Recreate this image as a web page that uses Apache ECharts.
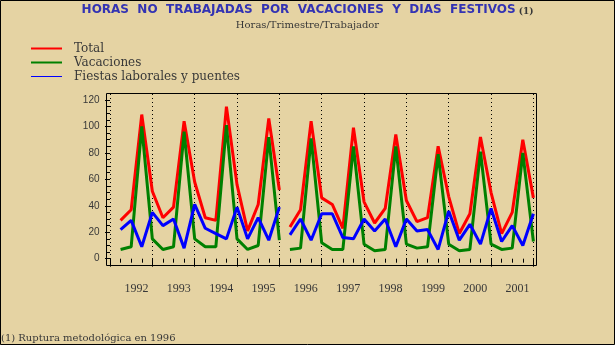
<!DOCTYPE html>
<html>
<head>
<meta charset="utf-8">
<script src="https://cdn.jsdelivr.net/npm/echarts@6/dist/echarts.min.js"></script>
<style>
  html, body { margin: 0; padding: 0; background: #e5d3a3; }
  #chart { width: 615px; height: 345px; }
</style>
</head>
<body>
<div id="chart"></div>
<script>
// Hours not worked per worker and quarter, 1992–2001.
// The survey changed its method in 1996, so each line is drawn in two pieces.
const years = ['1992', '1993', '1994', '1995', '1996', '1997', '1998', '1999', '2000', '2001'];

// 1992 Q1 – 1995 Q4
const totalA    = [29, 37, 109, 51, 31, 39, 104, 58, 31, 29, 115, 56, 21, 41, 106, 52];
const vacA      = [7, 9, 100, 15, 7, 9, 96, 15, 9, 9, 101, 15, 7, 10, 92, 14];
const fiestasA  = [22, 29, 9, 35, 25, 30, 8, 41, 23, 19, 15, 39, 15, 31, 14, 39];

// 1996 Q1 – 2001 Q4
const totalB    = [24, 37, 104, 46, 41, 23, 99, 43, 27, 38, 94, 44, 28, 31, 85, 47, 19, 34, 92, 50, 19, 35, 90, 46];
const vacB      = [7, 8, 91, 12, 7, 7, 85, 11, 6, 7, 85, 11, 8, 9, 79, 11, 6, 7, 81, 11, 7, 8, 80, 13];
const fiestasB  = [18, 30, 14, 34, 34, 16, 15, 30, 21, 30, 9, 30, 21, 22, 7, 36, 14, 26, 11, 38, 13, 25, 10, 34];

const seriesNames = ['Total', 'Vacaciones', 'Fiestas laborales y puentes'];
const colors = ['#ff0000', '#008000', '#0000ff'];

// quarter index on the x axis: 1 = 1992 Q1, 40 = 2001 Q4
function toPoints(values, firstQuarter) {
  return values.map((v, i) => [firstQuarter + i, v]);
}

function lineSeries(name, color, values, firstQuarter) {
  return {
    type: 'line',
    name: name,
    xAxisIndex: 0,
    yAxisIndex: 0,
    data: toPoints(values, firstQuarter),
    symbol: 'none',
    lineStyle: { color: color, width: 3 },
    itemStyle: { color: color },
    emphasis: { disabled: true },
    animation: false
  };
}

const textColor = '#383838';
const serif = '"DejaVu Serif", serif';

function legendRow(name, top, thickness) {
  return {
    data: [name],
    left: 31,
    top: top,
    padding: 0,
    icon: 'rect',
    itemWidth: 31,
    itemHeight: thickness,
    selectedMode: false,
    textStyle: {
      fontFamily: serif, fontSize: 12, color: textColor,
      lineHeight: 12, padding: [0, 0, 0, 7]
    }
  };
}

// the plot area: data grid, plus a taller twin used for the year dividers
const plotLeft = 110, plotWidth = 423.4;

const chart = echarts.init(document.getElementById('chart'), null, { renderer: 'canvas' });

chart.setOption({
  backgroundColor: '#e5d3a3',
  animation: false,
  title: [
    {
      text: '{a|HORAS  NO  TRABAJADAS  POR  VACACIONES  Y  DIAS  FESTIVOS}{b|(1)}',
      left: 'center',
      top: 4,
      padding: 0,
      textStyle: {
        rich: {
          a: { fontFamily: '"DejaVu Sans", sans-serif', fontWeight: 'bold', fontSize: 12, color: '#3333b3' },
          b: { fontFamily: serif, fontSize: 9, color: textColor, padding: [3, 0, 0, 3] }
        }
      }
    },
    {
      text: 'Horas/Trimestre/Trabajador',
      left: 'center',
      top: 20.5,
      padding: 0,
      textStyle: { fontFamily: serif, fontSize: 10, fontWeight: 'normal', color: textColor }
    },
    {
      text: '(1) Ruptura metodológica en 1996',
      left: 1,
      top: 333,
      padding: 0,
      textStyle: { fontFamily: serif, fontSize: 10, fontWeight: 'normal', color: textColor }
    }
  ],
  legend: [
    legendRow(seriesNames[0], 42.5, 2),
    legendRow(seriesNames[1], 56.5, 2),
    legendRow(seriesNames[2], 70.5, 1)
  ],
  grid: [
    { left: plotLeft, top: 100, width: plotWidth, height: 158.7, containLabel: false },
    { left: plotLeft, top: 94, width: plotWidth, height: 171, containLabel: false }
  ],
  xAxis: [
    {
      type: 'value',
      gridIndex: 0,
      min: 0,
      max: 40,
      interval: 4,
      offset: 6.8,
      axisLine: { show: false },
      axisTick: { show: true, length: 8, lineStyle: { color: '#000', width: 1 } },
      minorTick: { show: true, splitNumber: 4, length: 4, lineStyle: { color: '#000', width: 1 } },
      splitLine: { show: false },
      axisLabel: {
        formatter: v => years[v / 4] || '',
        margin: 17,
        padding: [0, 0, 0, 53],
        fontFamily: '"Liberation Serif", serif',
        fontSize: 12,
        color: textColor
      }
    },
    {
      // dotted year dividers spanning the whole frame
      type: 'value',
      gridIndex: 1,
      min: 0,
      max: 40,
      interval: 4,
      axisLine: { show: false },
      axisTick: { show: false },
      axisLabel: { show: false },
      splitLine: { show: true, lineStyle: { color: '#000', width: 1, type: [1, 3] } }
    }
  ],
  yAxis: [
    {
      type: 'value',
      gridIndex: 0,
      min: 0,
      max: 120,
      interval: 20,
      offset: 3.5,
      axisLine: { show: false },
      axisTick: { show: true, length: 5, lineStyle: { color: '#000', width: 1 } },
      minorTick: { show: true, splitNumber: 4, length: 3, lineStyle: { color: '#000', width: 1 } },
      splitLine: { show: false },
      axisLabel: {
        margin: 7,
        fontFamily: '"Liberation Sans", sans-serif',
        fontSize: 10,
        color: textColor
      }
    },
    {
      type: 'value',
      gridIndex: 1,
      min: 0,
      max: 1,
      show: false
    }
  ],
  graphic: [
    // plot frame
    { type: 'rect', shape: { x: 106.5, y: 93.5, width: 430, height: 172 },
      style: { fill: null, stroke: '#000', lineWidth: 1 }, silent: true, z: 10 },
    // page frame
    { type: 'rect', shape: { x: 0.5, y: 0.5, width: 614, height: 344 },
      style: { fill: null, stroke: '#000', lineWidth: 1 }, silent: true, z: 10 }
  ],
  series: [
    lineSeries(seriesNames[0], colors[0], totalA, 1),
    lineSeries(seriesNames[0], colors[0], totalB, 17),
    lineSeries(seriesNames[1], colors[1], vacA, 1),
    lineSeries(seriesNames[1], colors[1], vacB, 17),
    lineSeries(seriesNames[2], colors[2], fiestasA, 1),
    lineSeries(seriesNames[2], colors[2], fiestasB, 17)
  ]
});
</script>
</body>
</html>
